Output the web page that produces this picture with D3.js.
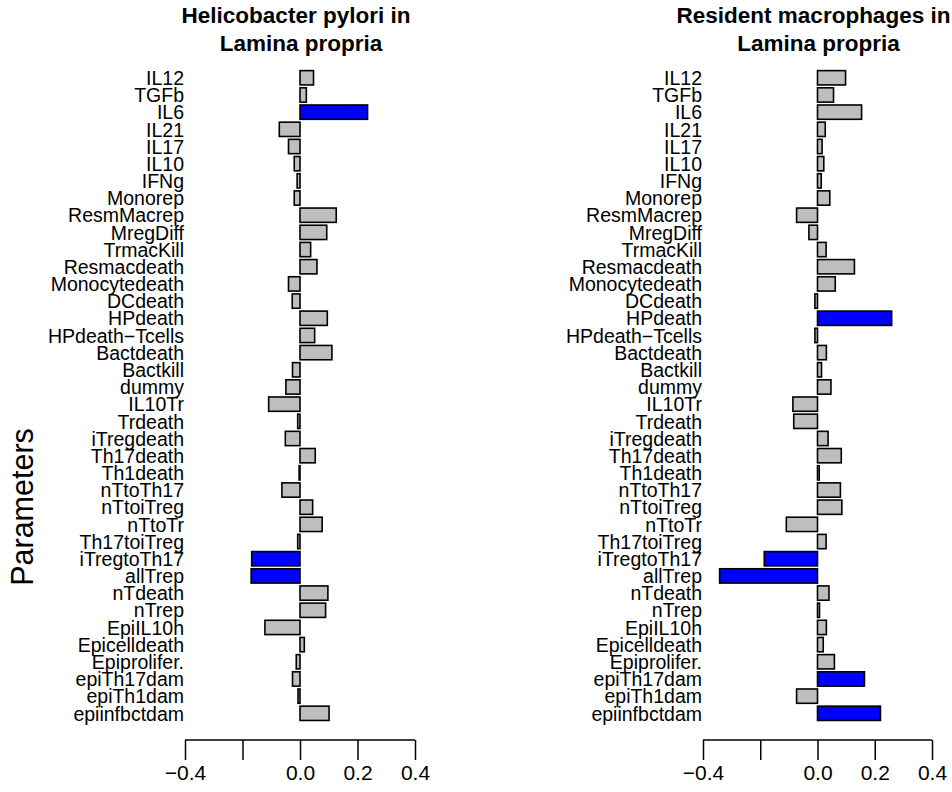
<!DOCTYPE html>
<html>
<head>
<meta charset="utf-8">
<script src="https://cdn.jsdelivr.net/npm/d3@7.9.0/dist/d3.min.js"></script>
<style>
  body { margin: 0; background: #fff; }
  svg { font-family: "Liberation Sans", Arial, Helvetica, sans-serif; }
</style>
</head>
<body>
<svg id="chart" width="952" height="792"></svg>
<script>
// parameter names, top to bottom
const params = ['IL12', 'TGFb', 'IL6', 'IL21', 'IL17', 'IL10', 'IFNg', 'Monorep',
  'ResmMacrep', 'MregDiff', 'TrmacKill', 'Resmacdeath', 'Monocytedeath', 'DCdeath',
  'HPdeath', 'HPdeath\u2212Tcells', 'Bactdeath', 'Bactkill', 'dummy', 'IL10Tr', 'Trdeath',
  'iTregdeath', 'Th17death', 'Th1death', 'nTtoTh17', 'nTtoiTreg', 'nTtoTr', 'Th17toiTreg',
  'iTregtoTh17', 'allTrep', 'nTdeath', 'nTrep', 'EpiIL10h', 'Epicelldeath', 'Epiprolifer.',
  'epiTh17dam', 'epiTh1dam', 'epiinfbctdam'];

// Helicobacter pylori in Lamina propria
const hpValues = [0.047, 0.022, 0.235, -0.072, -0.040, -0.020, -0.010, -0.020,
  0.126, 0.093, 0.037, 0.059, -0.040, -0.027,
  0.095, 0.051, 0.111, -0.026, -0.049, -0.109, -0.008,
  -0.051, 0.053, -0.003, -0.063, 0.044, 0.077, -0.008,
  -0.168, -0.170, 0.097, 0.089, -0.122, 0.015, -0.013,
  -0.026, -0.007, 0.101];
const hpHighlight = ['IL6', 'iTregtoTh17', 'allTrep'];

// Resident macrophages in Lamina propria
const rmValues = [0.098, 0.056, 0.154, 0.027, 0.016, 0.022, 0.013, 0.043,
  -0.073, -0.030, 0.030, 0.129, 0.062, -0.009,
  0.259, -0.009, 0.031, 0.014, 0.047, -0.086, -0.083,
  0.037, 0.083, 0.006, 0.080, 0.085, -0.109, 0.030,
  -0.186, -0.342, 0.040, 0.007, 0.031, 0.020, 0.059,
  0.164, -0.073, 0.220];
const rmHighlight = ['HPdeath', 'iTregtoTh17', 'allTrep', 'epiTh17dam', 'epiinfbctdam'];

const tickValues = [-0.4, -0.2, 0.0, 0.2, 0.4];
const tickLabels = ['\u22120.4', '', '0.0', '0.2', '0.4'];

const svg = d3.select('#chart');

const y = d3.scaleBand()
  .domain(params)
  .range([69.2, 721.9])
  .paddingInner(1 / 6)
  .paddingOuter(1 / 12);

function drawPanel(values, highlight, titleLines, x0, x1) {
  const x = d3.scaleLinear().domain([-0.4, 0.4]).range([x0, x1]);
  const g = svg.append('g');
  const data = params.map((p, i) => ({ name: p, value: values[i] }));

  // bars
  g.selectAll('rect')
    .data(data)
    .join('rect')
    .attr('x', d => x(Math.min(0, d.value)))
    .attr('y', d => y(d.name))
    .attr('width', d => Math.abs(x(d.value) - x(0)))
    .attr('height', y.bandwidth())
    .attr('fill', d => highlight.includes(d.name) ? '#0000ff' : '#bebebe')
    .attr('stroke', '#000')
    .attr('stroke-width', 1.6);

  // parameter labels
  g.selectAll('text.lab')
    .data(data)
    .join('text')
    .attr('class', 'lab')
    .attr('x', x0 - 1)
    .attr('y', d => y(d.name) + y.bandwidth() / 2 + 7.2)
    .attr('text-anchor', 'end')
    .attr('font-size', 19.5)
    .text(d => d.name);

  // bottom axis, R style: no domain overhang
  const axis = d3.axisBottom(x)
    .tickValues(tickValues)
    .tickSize(20)
    .tickPadding(5)
    .tickFormat((d, i) => tickLabels[i]);
  const ag = g.append('g')
    .attr('transform', 'translate(0,740)')
    .call(axis);
  ag.select('.domain').attr('d', `M${x0},0H${x1}`).attr('stroke-width', 1.5);
  ag.selectAll('.tick line').attr('stroke-width', 1.5);
  ag.selectAll('.tick text')
    .attr('font-size', 21)
    .attr('font-family', '"Liberation Sans", Arial, sans-serif')
    .attr('fill', '#000')
    .attr('dy', '0.71em');

  // title
  const cx = x(0);
  g.append('text')
    .attr('x', cx - 4).attr('y', 23)
    .attr('text-anchor', 'middle')
    .attr('font-size', 22.5).attr('font-weight', 'bold')
    .text(titleLines[0]);
  g.append('text')
    .attr('x', cx + 1).attr('y', 51)
    .attr('text-anchor', 'middle')
    .attr('font-size', 22.5).attr('font-weight', 'bold')
    .text(titleLines[1]);
}

drawPanel(hpValues, hpHighlight, ['Helicobacter pylori in', 'Lamina propria'], 185, 415);
drawPanel(rmValues, rmHighlight, ['Resident macrophages in', 'Lamina propria'], 703, 932);

// y axis title
svg.append('text')
  .attr('transform', 'translate(33,507) rotate(-90)')
  .attr('text-anchor', 'middle')
  .attr('font-size', 30.5)
  .text('Parameters');
</script>
</body>
</html>
